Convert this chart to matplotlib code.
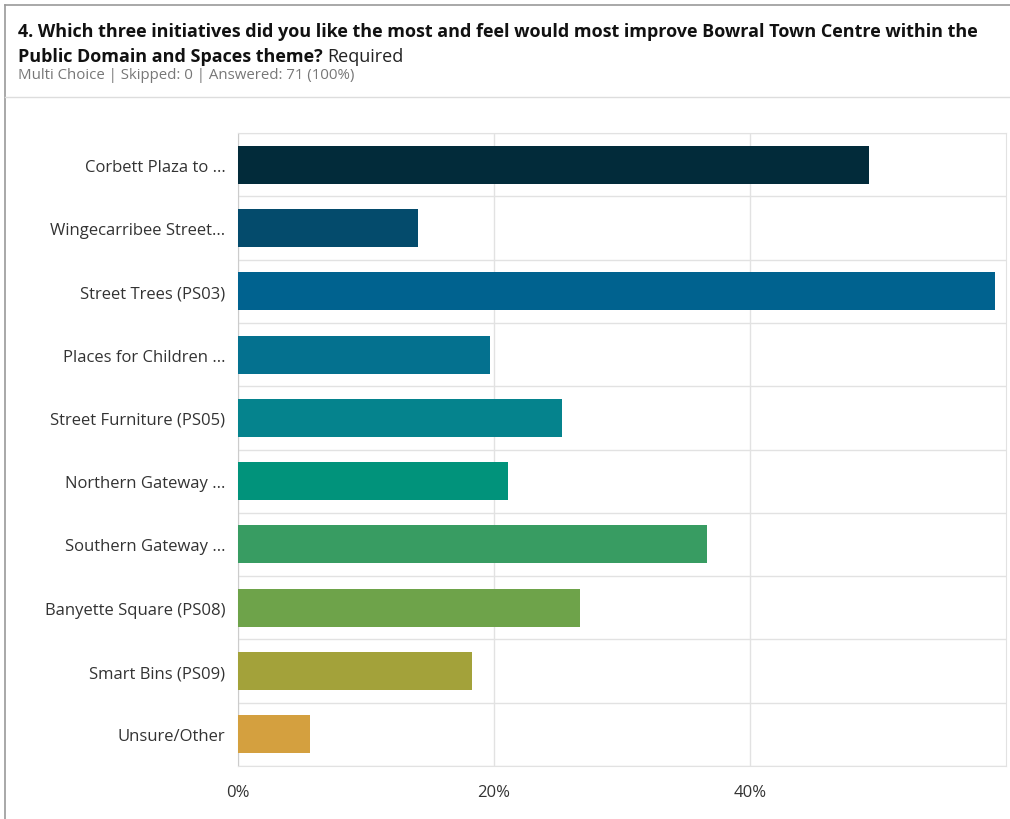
import matplotlib.pyplot as plt
import numpy as np
from matplotlib.lines import Line2D

plt.rcParams['font.family'] = ['Open Sans', 'DejaVu Sans']

# Survey results: 71 respondents, multi choice
total = 71
categories = ['Corbett Plaza to ...', 'Wingecarribee Street...', 'Street Trees (PS03)',
              'Places for Children ...', 'Street Furniture (PS05)', 'Northern Gateway ...',
              'Southern Gateway ...', 'Banyette Square (PS08)', 'Smart Bins (PS09)',
              'Unsure/Other']
counts = [35, 10, 42, 14, 18, 15, 26, 19, 13, 4]
colors = ['#022b3a', '#044b6c', '#00628f', '#04718f', '#05838d', '#01937b',
          '#389c62', '#6ea34a', '#a3a23a', '#d4a03f']
tick_values = [0, 20, 40]
tick_labels = ['0%', '20%', '40%']

percents = [c / total * 100 for c in counts]

fig = plt.figure(figsize=(10.1, 8.2), dpi=100)

# card frame and header separator
frame = '#9a9a9a'
fig.add_artist(Line2D([0.005, 0.005], [0.0, 0.993], color=frame, lw=1.2))
fig.add_artist(Line2D([0.005, 1.0], [0.993, 0.993], color=frame, lw=1.2))
fig.add_artist(Line2D([0.005, 1.0], [0.881, 0.881], color='#dddddd', lw=1.0))

fig.text(0.018, 0.961, '4. Which three initiatives did you like the most and feel would most improve Bowral Town Centre within the',
         fontsize=13, fontweight='bold', color='#111111', va='center')
t2 = fig.text(0.018, 0.930, 'Public Domain and Spaces theme?', fontsize=13, fontweight='bold',
              color='#111111', va='center')
fig.canvas.draw()
bb = t2.get_window_extent()
fig.text(bb.x1 / fig.bbox.width + 0.004, 0.930, 'Required', fontsize=13, color='#222222', va='center')
fig.text(0.018, 0.908, 'Multi Choice | Skipped: 0 | Answered: 71 (100%)', fontsize=10.8,
         color='#777777', va='center')

ax = fig.add_axes([0.2356, 0.0646, 0.7604, 0.772])
y = np.arange(len(categories))
ax.barh(y, percents, height=0.6, color=colors, zorder=3)

ax.set_ylim(len(categories) - 0.5, -0.5)
ax.set_xlim(0, 60)
ax.set_yticks(y)
ax.set_yticklabels(categories, fontsize=12, color='#333333')
ax.set_yticks(np.arange(-0.5, len(categories), 1), minor=True)
ax.set_xticks(tick_values)
ax.set_xticklabels(tick_labels, fontsize=12, color='#333333')
ax.tick_params(axis='both', which='both', length=0)
ax.tick_params(axis='y', pad=9)
ax.tick_params(axis='x', pad=13)

ax.grid(axis='y', which='minor', color='#e2e2e2', lw=1.0, zorder=0)
ax.grid(axis='x', which='major', color='#e2e2e2', lw=1.0, zorder=0)
for side in ['top', 'right', 'bottom']:
    ax.spines[side].set_color('#e2e2e2')
ax.spines['left'].set_color('#cccccc')

fig.savefig('out.png', dpi=100)
